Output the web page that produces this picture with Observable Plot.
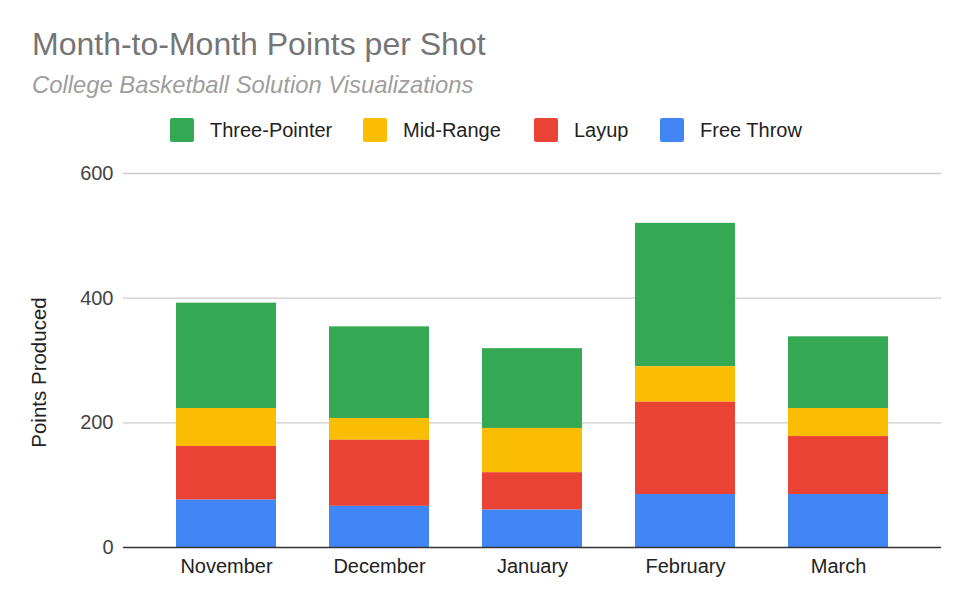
<!DOCTYPE html>
<html>
<head>
<meta charset="utf-8">
<script src="https://cdn.jsdelivr.net/npm/d3@7"></script>
<script src="https://cdn.jsdelivr.net/npm/@observablehq/plot@0.6"></script>
<style>
  html, body { margin: 0; padding: 0; background: #fff; }
  #wrap { position: relative; width: 972px; height: 608px; font-family: "Liberation Sans", Arial, sans-serif; }
  #header { position: relative; width: 972px; height: 150px; }
  #title { position: absolute; left: 32px; top: 28px; font-size: 32px; line-height: 1; color: #757575; white-space: nowrap; }
  #subtitle { position: absolute; left: 32px; top: 73px; font-size: 23.8px; line-height: 1; font-style: italic; color: #9e9e9e; white-space: nowrap; }
  .leg { position: absolute; top: 118px; display: flex; align-items: center; font-size: 20px; color: #222; white-space: nowrap; }
  .sw { width: 24px; height: 24px; border-radius: 2px; margin-right: 16px; }
  #chart svg { display: block; }
</style>
</head>
<body>
<div id="wrap">
  <div id="header">
    <div id="title">Month-to-Month Points per Shot</div>
    <div id="subtitle">College Basketball Solution Visualizations</div>
    <div id="legend"></div>
  </div>
  <div id="chart"></div>
</div>
<script>
const months = ["November", "December", "January", "February", "March"];
const seriesNames = ["Three-Pointer", "Mid-Range", "Layup", "Free Throw"];
const seriesColors = ["#34a853", "#fbbc04", "#ea4335", "#4285f4"];
const threePointer = [169, 147, 128, 230, 115];
const midRange = [61, 35, 71, 57, 45];
const layup = [86, 106, 60, 148, 93];
const freeThrow = [76, 66, 60, 85, 85];
const yTicks = [0, 200, 400, 600];
const yTitle = "Points Produced";

const seriesValues = {"Three-Pointer": threePointer, "Mid-Range": midRange, "Layup": layup, "Free Throw": freeThrow};
const data = [];
for (const s of seriesNames) {
  months.forEach((m, i) => data.push({month: m, type: s, value: seriesValues[s][i]}));
}

// legend
const legendX = [170, 363, 534, 660];
const legend = document.getElementById("legend");
seriesNames.forEach((s, i) => {
  const d = document.createElement("div");
  d.className = "leg";
  d.style.left = legendX[i] + "px";
  d.innerHTML = `<span class="sw" style="background:${seriesColors[i]}"></span><span>${s}</span>`;
  legend.appendChild(d);
});

const chart = Plot.plot({
  width: 972,
  height: 458,
  marginLeft: 123,
  marginRight: 31,
  marginTop: 23,
  marginBottom: 61,
  style: {fontFamily: "'Liberation Sans', Arial, sans-serif", fontSize: "19px", background: "#fff"},
  x: {domain: months, padding: 0.346, label: null},
  y: {domain: [0, 600], ticks: yTicks, label: null},
  color: {domain: seriesNames, range: seriesColors},
  marks: [
    Plot.gridY(yTicks.filter(d => d > 0), {stroke: "#cccccc", strokeOpacity: 1, strokeWidth: 1.3}),
    Plot.barY(data, {
      x: "month", y: "value", fill: "type",
      order: ["Free Throw", "Layup", "Mid-Range", "Three-Pointer"]
    }),
    Plot.ruleY([0], {stroke: "#333", strokeWidth: 1.5}),
    Plot.axisY({ticks: yTicks, tickSize: 0, tickPadding: 10, fill: "#444", fontSize: 20, label: null}),
    Plot.text([yTitle], {frameAnchor: "left", rotate: -90, dx: -84, dy: 12, fill: "#222", fontSize: 20.5, textAnchor: "middle"}),
    Plot.axisX({tickSize: 0, tickPadding: 11, fill: "#222", fontSize: 20, label: null})
  ]
});
document.getElementById("chart").appendChild(chart);
</script>
</body>
</html>
